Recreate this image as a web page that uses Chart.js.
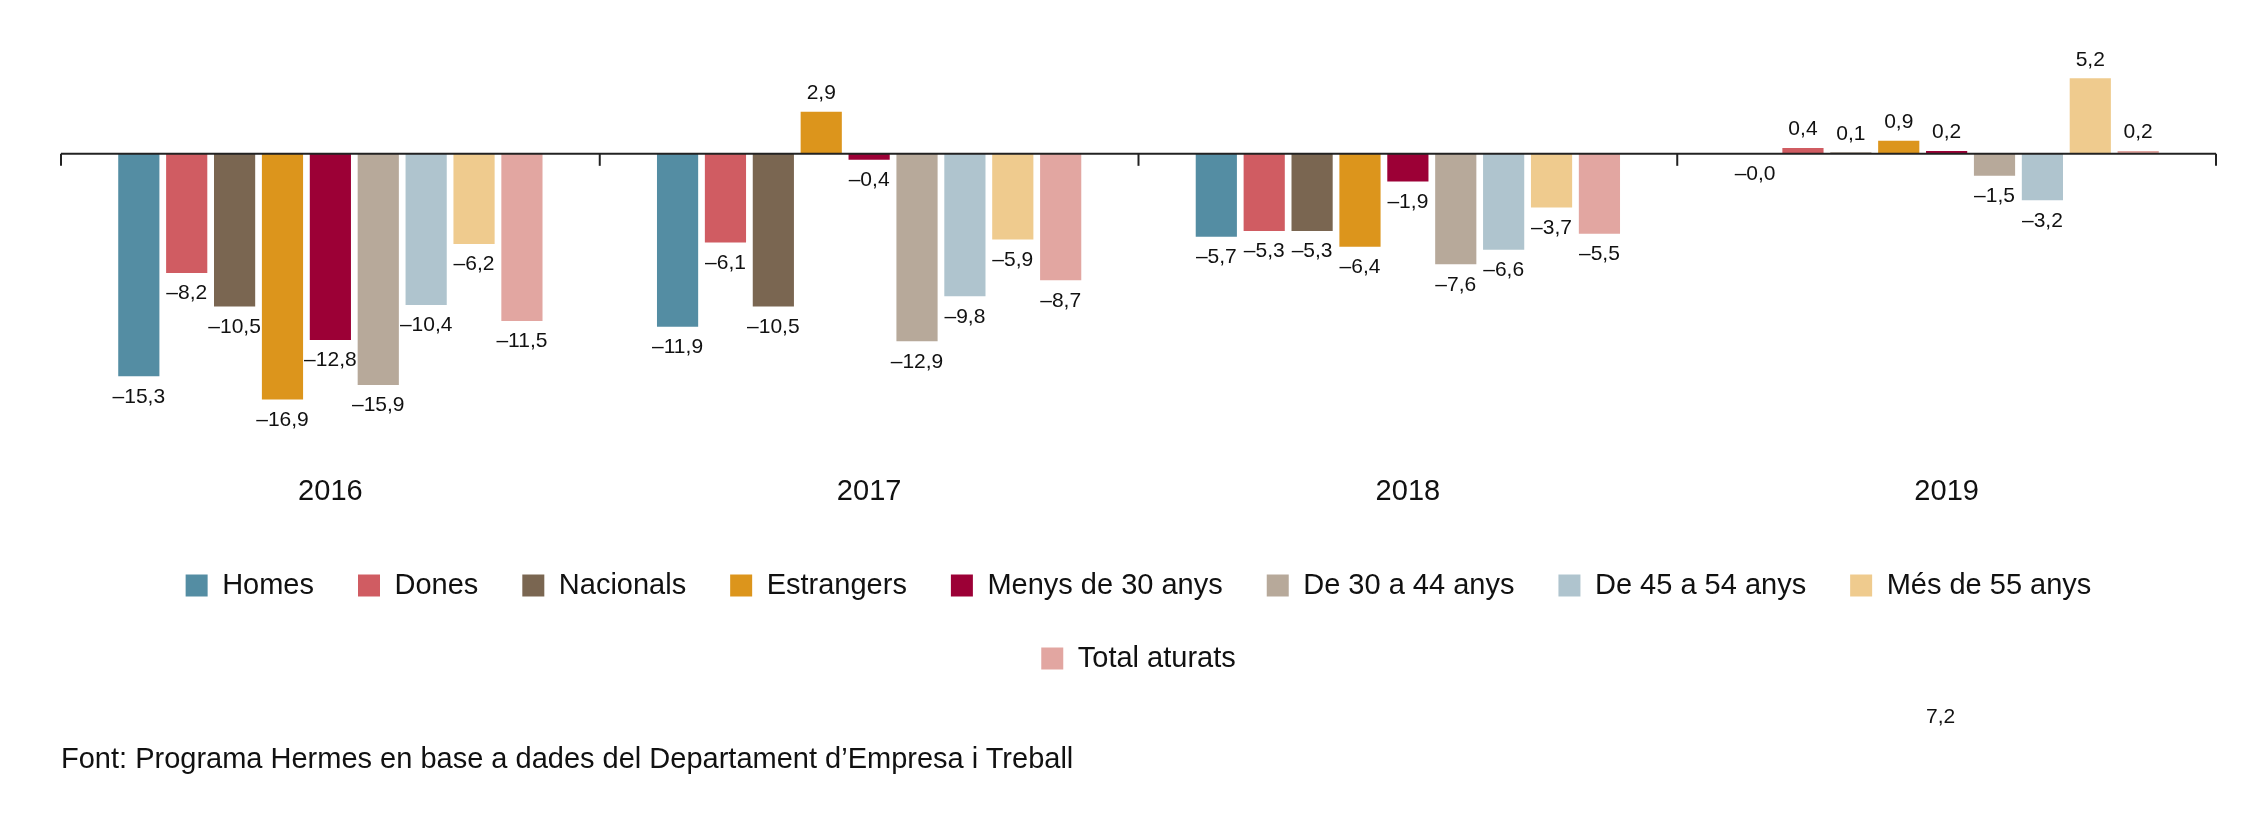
<!DOCTYPE html>
<html><head><meta charset="utf-8">
<script src="https://cdn.jsdelivr.net/npm/chart.js@4/dist/chart.umd.min.js"></script>
<style>
html,body{margin:0;padding:0;background:#fff;}
#wrap{position:relative;width:2268px;height:833px;}
.note{position:absolute;font-family:"Liberation Sans Narrow","Liberation Sans",Arial,sans-serif;color:#111;}
</style></head><body>
<div id="wrap"><canvas id="c" width="2268" height="833"></canvas>
<div class="note" style="left:61px;top:742px;font-size:29px;">Font: Programa Hermes en base a dades del Departament d’Empresa i Treball</div>
<div class="note" style="left:1926px;top:704px;font-size:21px;">7,2</div>
</div>
<script>
const years = ["2016","2017","2018","2019"];
const seriesNames = ["Homes","Dones","Nacionals","Estrangers","Menys de 30 anys","De 30 a 44 anys","De 45 a 54 anys","Més de 55 anys","Total aturats"];
const homes = [-15.3,-11.9,-5.7,-0.02];
const dones = [-8.2,-6.1,-5.3,0.4];
const nacionals = [-10.5,-10.5,-5.3,0.1];
const estrangers = [-16.9,2.9,-6.4,0.9];
const menys30 = [-12.8,-0.4,-1.9,0.2];
const de30a44 = [-15.9,-12.9,-7.6,-1.5];
const de45a54 = [-10.4,-9.8,-6.6,-3.2];
const mes55 = [-6.2,-5.9,-3.7,5.2];
const total = [-11.5,-8.7,-5.5,0.2];
const colors = ["#548da3","#d05c62","#7a6651","#dc951c","#9c0036","#b7a99a","#afc4ce","#efcb8e","#e2a6a1"];
const allData = [homes,dones,nacionals,estrangers,menys30,de30a44,de45a54,mes55,total];
const FONT = '"Liberation Sans Narrow","Liberation Sans",Arial,sans-serif';
function fmt(v){const s=Math.abs(v).toFixed(1).replace('.',',');return v<0?'\u2013'+s:s;}
const deco = {
  id:'deco',
  afterDatasetsDraw(chart){
    const ctx=chart.ctx, x=chart.scales.x, y=chart.scales.y, ca=chart.chartArea;
    const y0=y.getPixelForValue(0);
    ctx.save();
    ctx.strokeStyle='#222';ctx.lineWidth=2;
    ctx.beginPath();ctx.moveTo(ca.left,y0);ctx.lineTo(ca.right,y0);ctx.stroke();
    const w=(x.getPixelForValue(1)-x.getPixelForValue(0));
    for(let i=0;i<=years.length;i++){
      const px=x.getPixelForValue(0)-w/2+i*w;
      ctx.beginPath();ctx.moveTo(px,y0);ctx.lineTo(px,y0+12);ctx.stroke();
    }
    ctx.fillStyle='#111';ctx.font='21px '+FONT;ctx.textAlign='center';
    chart.data.datasets.forEach((ds,di)=>{
      chart.getDatasetMeta(di).data.forEach((bar,i)=>{
        const v=ds.data[i];
        if(v<0){ctx.textBaseline='top';ctx.fillText(fmt(v),bar.x,bar.y+10);}
        else{ctx.textBaseline='bottom';ctx.fillText(fmt(v),bar.x,bar.y-8);}
      });
    });
    ctx.restore();
  }
};
new Chart(document.getElementById('c'),{
  type:'bar',
  data:{labels:years,datasets:seriesNames.map((n,i)=>({label:n,data:allData[i],backgroundColor:colors[i],borderWidth:0}))},
  options:{
    responsive:false,animation:false,
    categoryPercentage:0.8,barPercentage:0.86,
    layout:{padding:{left:61,right:52,top:23,bottom:150}},
    plugins:{
      legend:{position:'bottom',labels:{font:{family:FONT,size:29},color:'#111',boxWidth:22,boxHeight:22,padding:44}},
      tooltip:{enabled:false}
    },
    scales:{
      x:{grid:{display:false},border:{display:false},ticks:{font:{family:FONT,size:29},color:'#111',padding:18}},
      y:{display:false,min:-20.25,max:9}
    }
  },
  plugins:[deco]
});
</script></body></html>
